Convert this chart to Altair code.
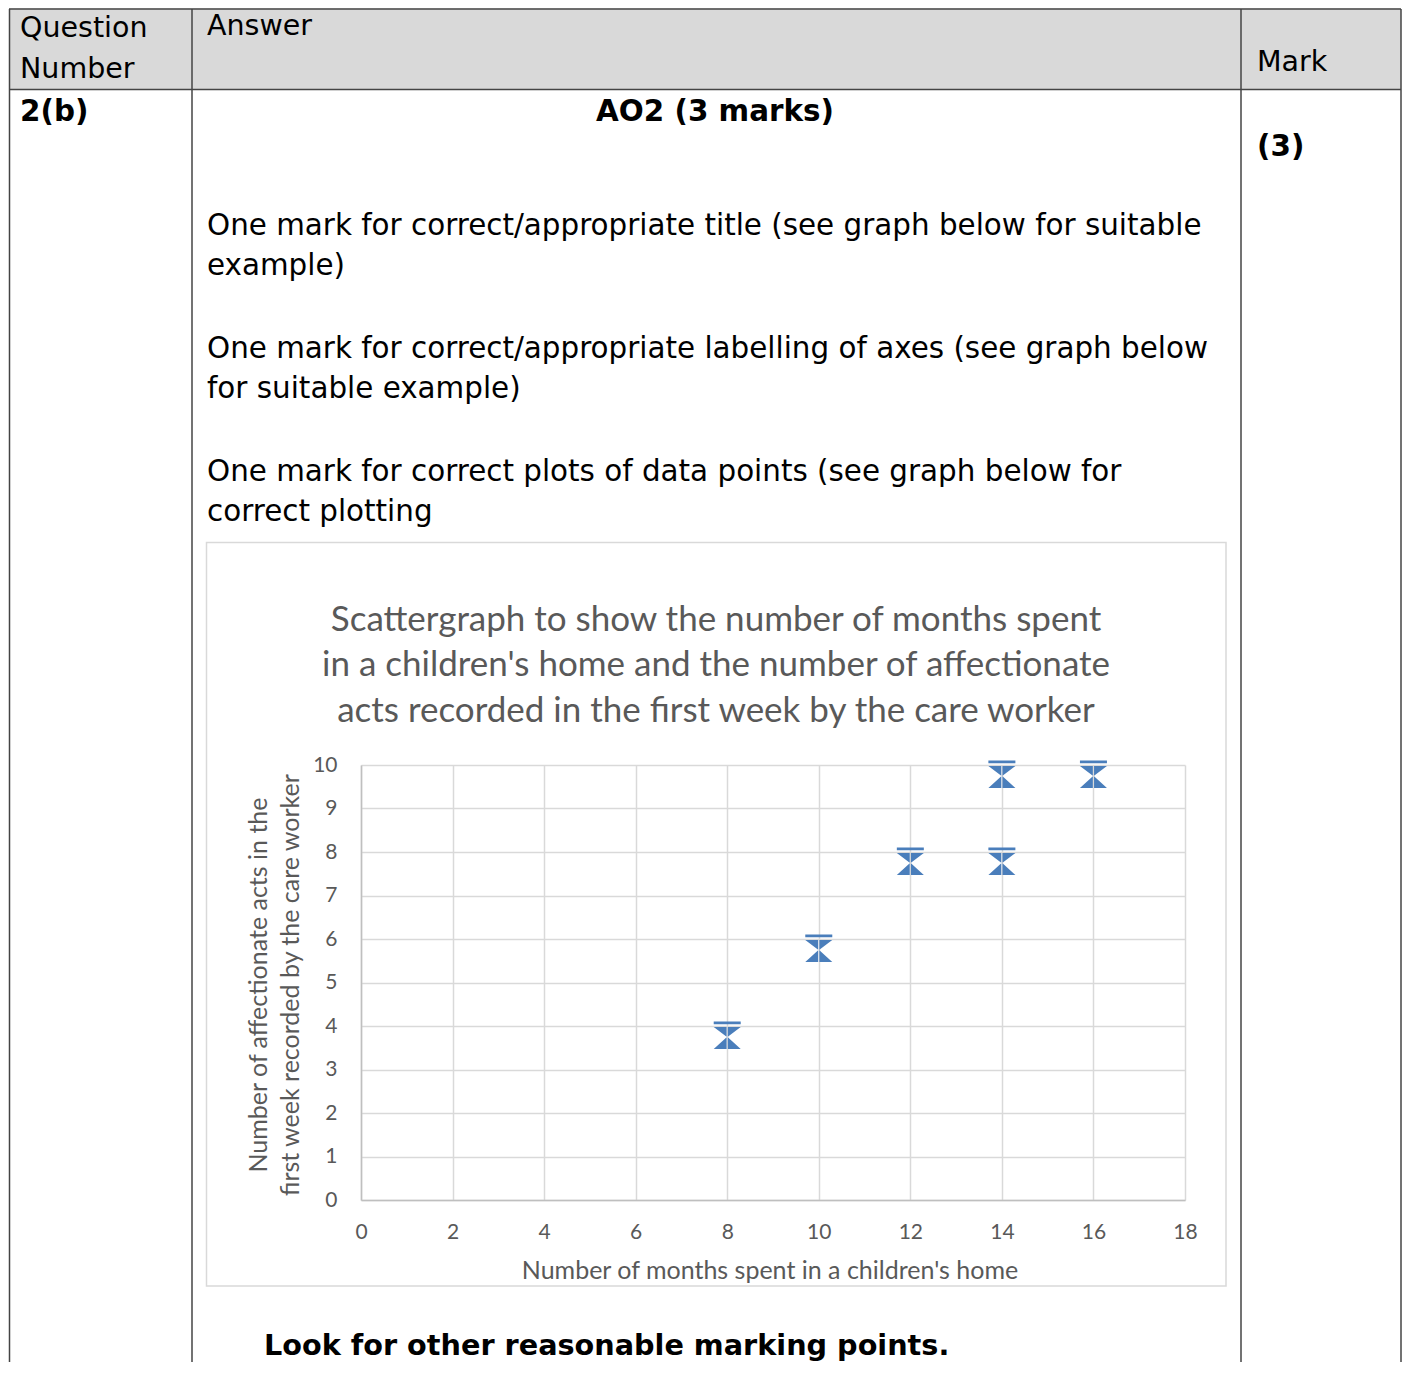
import altair as alt
import pandas as pd

# ---------------- data ----------------
months = [8, 10, 12, 14, 14, 16]
acts = [4, 6, 8, 8, 10, 10]
x_ticks = [0, 2, 4, 6, 8, 10, 12, 14, 16, 18]
y_ticks = [0, 1, 2, 3, 4, 5, 6, 7, 8, 9, 10]

chart_title = [
    "Scattergraph to show the number of months spent",
    "in a  children's home and the number of affectionate",
    "acts recorded in the first week by the care worker",
]
x_title = "Number of months spent in a children's home"
y_title = ["Number of affectionate acts in the", "first week recorded by the care worker"]

header_texts = ["Question", "Number", "Answer", "Mark"]
bold_texts = ["2(b)", "AO2 (3 marks)", "(3)", "Look for other reasonable marking points."]
body_lines = [
    "One mark for correct/appropriate title (see graph below for suitable",
    "example)",
    "One mark for correct/appropriate labelling of axes (see graph below",
    "for suitable example)",
    "One mark for correct plots of data points (see graph below for",
    "correct plotting",
]

# ---------------- layout (page pixels) ----------------
X0, Y0 = 361, 765          # page position of the plot origin (top-left)
W, H = 824, 435
TOTAL_W, TOTAL_H = 1394, 1354
PAD = {"left": X0 - 8, "top": Y0 - 8,
       "right": TOTAL_W - (X0 - 8) - W, "bottom": TOTAL_H - (Y0 - 8) - H}
BOTTOM = 8 + TOTAL_H
RIGHT = 8 + TOTAL_W - 1

BODY_FONT = "DejaVu Sans"
BODY_SIZE = 29.4
HEAD_SIZE = 28.5
CHART_FONT = "Lato"
GREY = "#595959"
LINE = "#444444"

df = pd.DataFrame({"months": months, "acts": acts})


def txt(s, x, y, size, font, color="#000000", weight="normal", align="left", angle=0):
    return alt.Chart(alt.Data(values=[{"t": s}])).mark_text(
        font=font, fontSize=size, fontWeight=weight, color=color, align=align,
        baseline="alphabetic", angle=angle,
    ).encode(x=alt.value(x - X0), y=alt.value(y - Y0), text="t:N")


def rule(x1, y1, x2, y2, color=LINE, width=1.5):
    return alt.Chart(alt.Data(values=[{}])).mark_rule(color=color, strokeWidth=width).encode(
        x=alt.value(x1 - X0), y=alt.value(y1 - Y0), x2=alt.value(x2 - X0), y2=alt.value(y2 - Y0))


def box(x1, y1, x2, y2, fill=None, stroke=None, width=1.5):
    kw = {}
    if fill is not None:
        kw["fill"] = fill
    else:
        kw["fillOpacity"] = 0
    if stroke is not None:
        kw["stroke"] = stroke
        kw["strokeWidth"] = width
    return alt.Chart(alt.Data(values=[{}])).mark_rect(**kw).encode(
        x=alt.value(x1 - X0), y=alt.value(y1 - Y0), x2=alt.value(x2 - X0), y2=alt.value(y2 - Y0))


layers = []
# table header background
layers.append(box(9, 8.5, RIGHT, 89.5, fill="#d9d9d9"))
# table lines
layers.append(rule(9, 9, RIGHT, 9))
layers.append(rule(9, 89.5, RIGHT, 89.5))
layers.append(rule(9.5, 9, 9.5, BOTTOM))
layers.append(rule(192, 9, 192, BOTTOM))
layers.append(rule(1241, 9, 1241, BOTTOM))
layers.append(rule(RIGHT, 9, RIGHT, BOTTOM))
# chart box
layers.append(box(206.5, 542.5, 1226, 1286, stroke="#d9d9d9", width=1.5))

# table texts
layers.append(txt(header_texts[0], 20, 37, HEAD_SIZE, BODY_FONT))
layers.append(txt(header_texts[1], 20, 78, HEAD_SIZE, BODY_FONT))
layers.append(txt(header_texts[2], 207, 35, HEAD_SIZE, BODY_FONT))
layers.append(txt(header_texts[3], 1257, 71, HEAD_SIZE, BODY_FONT))
layers.append(txt(bold_texts[0], 20, 121, BODY_SIZE, BODY_FONT, weight="bold"))
layers.append(txt(bold_texts[1], 715, 121, BODY_SIZE, BODY_FONT, weight="bold", align="center"))
layers.append(txt(bold_texts[2], 1257, 156, BODY_SIZE, BODY_FONT, weight="bold"))
layers.append(txt(bold_texts[3], 264, 1355, 28.7, BODY_FONT, weight="bold"))
for line, base in zip(body_lines, [235, 275, 358, 398, 481, 521]):
    layers.append(txt(line, 207, base, BODY_SIZE, BODY_FONT))

# chart texts
for line, base in zip(chart_title, [631, 676, 722]):
    layers.append(txt(line, 716, base, 35, CHART_FONT, color=GREY, align="center"))
layers.append(txt(x_title, 770, 1279, 25, CHART_FONT, color=GREY, align="center"))
layers.append(txt(y_title[0], 267, 985, 25, CHART_FONT, color=GREY, align="center", angle=270))
layers.append(txt(y_title[1], 299, 985, 25, CHART_FONT, color=GREY, align="center", angle=270))

# marker: bar on top of an hourglass, in pixel units (size=4 -> scale 1)
marker = ("M-13.5,-4.5 L13.5,-4.5 L13.5,-1.8 L-13.5,-1.8 Z "
          "M-13.5,1 L-0.6,1 L-0.6,10.8 Z "
          "M0.6,1 L13.5,1 L0.6,10.8 Z "
          "M-0.6,11.2 L-0.6,23 L-13.5,23 Z "
          "M0.6,11.2 L13.5,23 L0.6,23 Z")

scatter = alt.Chart(df).mark_point(
    shape=marker, size=4, filled=True, color="#4a7ebb", opacity=1, strokeWidth=0
).encode(
    x=alt.X("months:Q", scale=alt.Scale(domain=[0, 18], nice=False, zero=False),
            axis=alt.Axis(values=x_ticks, title=None, grid=True, gridColor="#d9d9d9", gridWidth=1.5,
                          domainColor="#bfbfbf", domainWidth=1.5, ticks=False,
                          labelFont=CHART_FONT, labelFontSize=21, labelColor=GREY,
                          labelPadding=21, labelFlush=False)),
    y=alt.Y("acts:Q", scale=alt.Scale(domain=[0, 10], nice=False, zero=False),
            axis=alt.Axis(values=y_ticks, title=None, grid=True, gridColor="#d9d9d9", gridWidth=1.5,
                          domainColor="#bfbfbf", domainWidth=1.5, ticks=False,
                          labelFont=CHART_FONT, labelFontSize=21, labelColor=GREY,
                          labelPadding=24, labelFlush=False)),
)

chart = alt.layer(*layers, scatter).properties(
    width=W, height=H,
    autosize=alt.AutoSizeParams(type="none"),
    padding=PAD,
    background="white",
).configure_view(stroke=None)

chart.save("out.html", embed_options={"renderer": "svg", "actions": False})
